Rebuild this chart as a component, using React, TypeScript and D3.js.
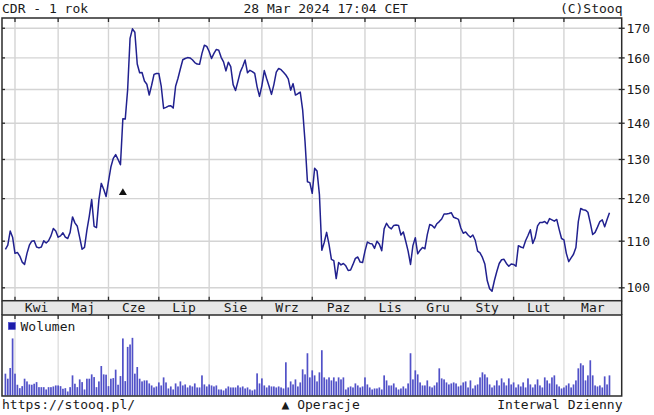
import React from "react";
import * as d3 from "d3";

// ---- data -----------------------------------------------------------
const titleLeft = "CDR - 1 rok";
const titleCenter = "28 Mar 2024 17:04 CET";
const titleRight = "(C)Stooq";
const footerLeft = "https://stooq.pl/";
const footerCenter = "\u25B2 Operacje";
const footerRight = "Interwal Dzienny";
const volumeLabel = "Wolumen";

// daily closes, 28 Mar 2023 .. 28 Mar 2024 (trading days)
const closes: number[] = [
  108.2, 109.1, 112.3, 110.9, 107.3, 107.5, 106.7, 105.4, 104.9, 107.3,
  109.1, 110.0, 110.1, 108.7, 108.5, 108.7, 110.1, 109.6, 110.1, 111.2,
  112.9, 112.3, 110.9, 111.2, 111.9, 110.9, 110.6, 112.0, 115.6, 114.2,
  113.4, 110.8, 108.2, 108.6, 112.5, 115.8, 119.8, 113.4, 113.1, 119.7,
  123.8, 122.3, 120.5, 124.3, 128.0, 130.3, 131.3, 130.0, 128.6,
  141.3, 141.2, 150.0, 166.5, 169.8, 168.6, 158.0, 155.2, 155.3, 152.6,
  151.6, 148.3, 151.3, 154.7, 155.0, 155.0, 151.0, 144.3, 144.6, 145.0,
  145.1, 144.4, 151.0, 153.5, 156.5, 159.4, 159.8, 160.1, 160.0, 159.4,
  158.5, 158.0, 157.9, 161.5, 164.2, 163.8, 162.1, 159.8, 161.5, 162.8,
  162.5, 160.2, 158.7, 155.8, 158.6, 157.2, 151.5, 149.7, 152.5,
  155.5, 157.2, 159.3, 155.2, 156.0, 155.6, 155.0, 150.8, 147.9, 151.2,
  155.9, 153.3, 151.0, 148.5, 151.5, 155.4, 156.6, 156.2, 155.4, 154.5,
  153.3, 149.8, 151.8, 148.3, 148.7, 149.2, 143.9, 134.8, 124.2, 124.0,
  121.3, 127.7, 127.0,
  121.0, 108.0, 109.7, 112.0, 109.3, 106.0, 105.7, 101.9, 105.3, 104.8,
  105.1, 104.6, 103.6, 103.7, 104.9, 106.2, 106.5, 105.4, 105.3, 107.8,
  109.8, 109.5, 109.4, 108.4, 110.0, 109.3, 107.9, 112.8, 114.1, 113.2,
  112.8, 113.6, 113.7, 113.6, 111.4, 112.1, 110.0, 107.8, 104.9, 109.0,
  110.8, 107.2, 108.0, 108.6, 108.3, 111.5, 113.8, 113.6, 113.0, 114.0,
  114.5, 115.1, 116.3, 116.3, 116.4, 116.6, 115.5, 115.3, 115.0, 113.0,
  111.8, 112.1, 111.4, 110.9, 111.4, 110.2, 107.8, 107.4, 106.4, 105.0,
  101.5, 99.8, 99.3, 101.5, 103.4, 105.1, 105.9, 106.0, 105.1, 104.5,
  105.0, 104.9, 104.5, 109.0, 108.7, 108.5, 110.1, 111.3, 112.6, 109.5,
  110.8, 113.5, 114.3, 114.3, 114.5, 114.0, 115.2, 114.9, 114.6, 115.0,
  112.7, 110.6, 110.3, 107.3, 105.5, 106.3, 107.1, 108.6, 114.5, 117.6,
  117.3, 117.2, 116.7, 114.2, 111.5, 112.0, 113.2, 114.5, 114.9, 113.3,
  115.0, 116.6,
];

// daily volume (thousand shares)
const volumes: number[] = [
  434, 334, 546, 1134, 434, 214, 146, 186, 334, 280,
  220, 214, 234, 266, 166, 166, 166, 120, 166, 166,
  180, 200, 200, 186, 134, 146, 80, 166, 400, 234,
  166, 320, 266, 120, 334, 334, 420, 366, 166, 280,
  586, 420, 414, 186, 334, 346, 514, 214, 386, 1134,
  286, 966, 1014, 1146, 434, 566, 334, 280, 300, 300,
  240, 200, 160, 180, 260, 200, 360, 260, 140, 180,
  120, 240, 180, 280, 200, 220, 160, 200, 180, 240,
  160, 160, 400, 220, 180, 220, 200, 180, 200, 120,
  120, 100, 140, 180, 160, 160, 160, 200, 160, 180,
  140, 160, 120, 100, 120, 440, 240, 340, 200, 160,
  200, 180, 180, 160, 180, 160, 140, 660, 160, 280,
  220, 320, 180, 260, 520, 420, 840, 360, 500, 400,
  280, 460, 900, 360, 320, 360, 300, 360, 280, 360,
  320, 360, 120, 160, 180, 160, 240, 200, 160, 180,
  360, 220, 160, 120, 140, 140, 160, 120, 400, 300,
  200, 200, 240, 160, 120, 140, 180, 140, 240, 840,
  320, 500, 420, 260, 200, 200, 300, 180, 160, 200,
  260, 540, 340, 320, 260, 220, 240, 260, 240, 180,
  200, 260, 280, 160, 300, 140, 200, 220, 360, 460,
  420, 360, 220, 160, 200, 300, 200, 340, 260, 200,
  340, 220, 260, 160, 220, 180, 260, 160, 340, 220,
  160, 220, 320, 200, 160, 360, 300, 240, 360, 400,
  220, 180, 140, 160, 200, 240, 160, 220, 300, 540,
  640, 600, 300, 400, 700, 400, 200, 180, 200, 160,
  380, 220, 400,
];

const monthLabels = ["Kwi", "Maj", "Cze", "Lip", "Sie", "Wrz", "Paz", "Lis", "Gru", "Sty", "Lut", "Mar"];
// index of first trading day of each month
const monthStarts = [4, 22, 43, 64, 85, 107, 128, 150, 171, 190, 212, 233];
const priceTicks = [100, 110, 120, 130, 140, 150, 160, 170];
const operationIdx = [49];
const operationLevel = [121.7];

// ---- layout ---------------------------------------------------------
const W = 654;
const H = 415;
const L = 2;
const R = 621.7;
const T = 18;
const B = 300.7;
const BAND_B = 315;
const VOL_B = 396;
const FONT = "'DejaVu Sans Mono', 'Liberation Mono', monospace";
const TEXT = "#1a1a1a";
const GRID = "#d4d4d4";
const FRAME = "#2b2b2b";

export default function App() {
  const x = d3.scaleLinear().domain([-1.42, 257.1]).range([L, R]);
  const y = d3.scaleLog().domain([97.4, 173.6]).range([B, T]);
  const yv = d3.scaleLinear().domain([0, 1600]).range([395.5, 315]);

  const line = d3
    .line<number>()
    .x((_, i) => x(i))
    .y((d) => y(d));

  const gridX = monthStarts.map((m) => x(m));
  const labelX = monthStarts.map((m, k) => {
    const a = x(m);
    const b = k + 1 < monthStarts.length ? x(monthStarts[k + 1]) : R;
    return (a + b) / 2;
  });

  return (
    <svg
      width={W}
      height={H}
      viewBox={`0 0 ${W} ${H}`}
      style={{ position: "absolute", left: 0, top: 0, background: "#fff" }}
      fontFamily={FONT}
      fontSize={13}
    >
      <rect x={0} y={0} width={W} height={H} fill="#fff" />

      {/* header */}
      <text x={2} y={13} fill={TEXT}>{titleLeft}</text>
      <text x={243.5} y={13} fill={TEXT}>{titleCenter}</text>
      <text x={622.5} y={13} fill={TEXT} textAnchor="end">{titleRight}</text>

      {/* price grid */}
      {priceTicks.map((t) => (
        <line key={"hg" + t} x1={L} x2={R} y1={y(t)} y2={y(t)} stroke={GRID} strokeWidth={1.4} />
      ))}
      {gridX.map((gx, k) => (
        <line key={"vg" + k} x1={gx} x2={gx} y1={T} y2={B} stroke={GRID} strokeWidth={1.4} />
      ))}

      {/* volume grid */}
      {gridX.map((gx, k) => (
        <line key={"vvg" + k} x1={gx} x2={gx} y1={BAND_B} y2={VOL_B} stroke="#dadada" strokeWidth={1.2} />
      ))}

      {/* price line */}
      <path d={line(closes) || ""} fill="none" stroke="#21218f" strokeWidth={1.5} strokeLinejoin="round" />

      {/* operations markers */}
      {operationIdx.map((oi, k) => {
        const cx = x(oi);
        const cy = y(operationLevel[k]);
        return <path key={"op" + k} d={`M${cx - 4},${cy + 3.3} L${cx + 4},${cy + 3.3} L${cx},${cy - 3.4} Z`} fill="#111" />;
      })}

      {/* volume bars */}
      {volumes.map((v, i) => (
        <rect
          key={"vb" + i}
          x={x(i) - 0.85}
          y={yv(v)}
          width={1.7}
          height={yv(0) - yv(v)}
          fill="#5151c8"
        />
      ))}

      {/* legend */}
      <rect x={8.3} y={322.5} width={7} height={7} fill="#1c1caa" stroke="#4a4ad0" strokeWidth={0.6} />
      <text x={20.5} y={330.5} fill={TEXT}>{volumeLabel}</text>

      {/* month band */}
      <rect x={L} y={B} width={R - L} height={BAND_B - B} fill="#e6e6e6" />
      {monthLabels.map((m, k) => (
        <text key={"ml" + k} x={labelX[k]} y={312.3} textAnchor="middle" fill={TEXT}>{m}</text>
      ))}

      {/* frames */}
      <rect x={L} y={T} width={R - L} height={B - T} fill="none" stroke={FRAME} strokeWidth={1.5} />
      <rect x={L} y={BAND_B} width={R - L} height={VOL_B - BAND_B} fill="none" stroke={FRAME} strokeWidth={1.5} />
      <line x1={L} x2={L} y1={B} y2={BAND_B} stroke={FRAME} strokeWidth={1.5} />
      <line x1={R} x2={R} y1={B} y2={BAND_B} stroke={FRAME} strokeWidth={1.5} />

      {/* month ticks */}
      {gridX.map((gx, k) => (
        <g key={"mt" + k} stroke={FRAME} strokeWidth={1.3}>
          <line x1={gx} x2={gx} y1={T} y2={T + 4} />
          <line x1={gx} x2={gx} y1={B - 4} y2={B} />
          <line x1={gx} x2={gx} y1={BAND_B} y2={BAND_B + 4} />
        </g>
      ))}

      {/* price ticks + labels */}
      {priceTicks.map((t) => (
        <g key={"pt" + t}>
          <line x1={L} x2={L + 3} y1={y(t)} y2={y(t)} stroke={FRAME} strokeWidth={1.3} />
          <line x1={R - 3} x2={R + 3} y1={y(t)} y2={y(t)} stroke={FRAME} strokeWidth={1.3} />
          <text x={626.5} y={y(t) + 4.6} fill={TEXT}>{t}</text>
        </g>
      ))}

      {/* footer */}
      <text x={2} y={408.5} fill={TEXT}>{footerLeft}</text>
      <text x={281.5} y={408.5} fill={TEXT}>{footerCenter}</text>
      <text x={622.5} y={408.5} fill={TEXT} textAnchor="end">{footerRight}</text>
    </svg>
  );
}
